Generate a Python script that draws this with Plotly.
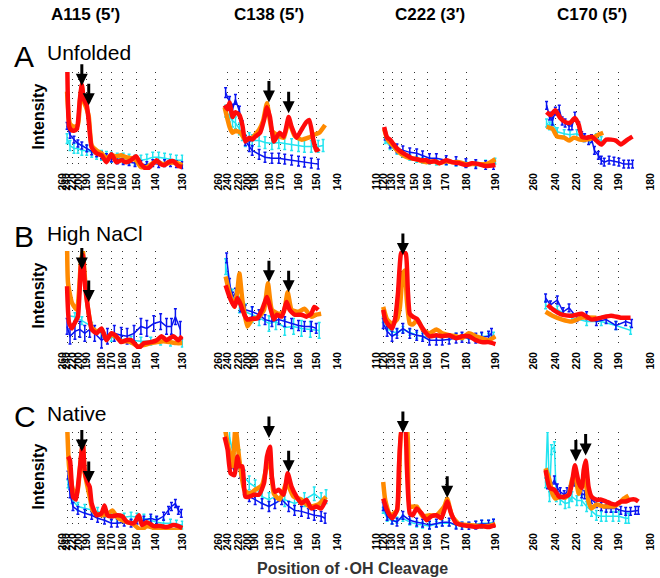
import plotly.graph_objects as go

# ---------------- tick labels (gel positions) per column ----------------
A115_TICK_POS = [0, 5, 11, 17, 25, 40, 50, 61, 76, 95, 122]
A115_TICK_LAB = ["260", "240", "220", "200", "190", "180", "170", "160", "150", "140", "130"]
C138_TICK_POS = [0, 9, 20, 29, 36, 52, 63, 81, 99, 121]
C138_TICK_LAB = ["260", "240", "220", "200", "190", "180", "170", "160", "150", "140"]
C222_TICK_POS = [0, 7, 16, 26, 39, 52, 70, 92, 121]
C222_TICK_LAB = ["110", "120", "130", "140", "150", "160", "170", "180", "190"]
C170_TICK_POS = [0, 22, 44, 66, 87, 120]
C170_TICK_LAB = ["260", "240", "220", "200", "190", "180"]

COLUMN_TITLES = ["A115 (5′)", "C138 (5′)", "C222 (3′)", "C170 (5′)"]
ROW_LETTERS = ["A", "B", "C"]
ROW_NAMES = ["Unfolded", "High NaCl", "Native"]

# ---------------- Row A: Unfolded ----------------
A115_UNF_RED = [(5,1.3),(7,0.45),(9,0.41),(12,0.40),(15,0.42),(18,0.72),(20,0.87),(22,0.72),(25,0.66),(27,0.5),(30,0.23),(35,0.17),(40,0.15),(45,0.08),(50,0.16),(55,0.08),(60,0.1),(65,0.08),(70,0.1),(75,0.14),(80,0.06),(86,0.01),(90,0.04),(96,0.1),(100,0.06),(104,0.05),(108,0.08),(113,0.09),(118,0.04),(122,0.03)]
A115_UNF_ORANGE = [(5,0.8),(8,0.47),(12,0.44),(16,0.46),(18,0.7),(20,0.85),(22,0.7),(25,0.62),(27,0.55),(30,0.25),(35,0.2),(40,0.17),(45,0.12),(50,0.15),(55,0.14),(60,0.15),(65,0.13),(70,0.12),(75,0.1),(80,0.03),(86,0.03),(92,0.07),(96,0.09),(102,0.06),(108,0.07),(114,0.08),(122,0.05)]
A115_UNF_BLUE = [(5,0.45),(8,0.36),(12,0.31),(16,0.27),(20,0.25),(25,0.22),(30,0.19),(35,0.17),(40,0.15),(45,0.13),(50,0.12),(56,0.1),(62,0.09),(68,0.08),(74,0.07),(80,0.06),(86,0.05),(92,0.07),(98,0.06),(104,0.07),(110,0.07),(116,0.06),(122,0.05)]
A115_UNF_CYAN = [(5,0.32),(8,0.25),(12,0.22),(16,0.22),(20,0.2),(25,0.2),(30,0.18),(35,0.16),(40,0.15),(45,0.14),(50,0.13),(56,0.12),(62,0.12),(68,0.11),(74,0.1),(80,0.1),(86,0.11),(92,0.13),(98,0.13),(104,0.12),(110,0.11),(116,0.1),(122,0.1)]
A115_UNF_BLUE_ERR, A115_UNF_CYAN_ERR = 0.035, 0.05

C138_UNF_RED = [(6,0.66),(9,0.62),(11,0.69),(14,0.54),(17,0.59),(21,0.56),(24,0.46),(27,0.29),(31,0.33),(34,0.31),(37,0.34),(42,0.38),(46,0.51),(49,0.64),(52,0.54),(56,0.29),(59,0.34),(62,0.38),(66,0.34),(71,0.54),(74,0.44),(79,0.33),(84,0.41),(89,0.49),(92,0.51),(96,0.31),(99,0.2),(102,0.22)]
C138_UNF_ORANGE = [(6,0.64),(11,0.44),(14,0.38),(17,0.4),(22,0.38),(27,0.31),(34,0.33),(41,0.41),(45,0.5),(49,0.68),(54,0.4),(59,0.36),(66,0.33),(71,0.5),(77,0.35),(84,0.31),(91,0.33),(97,0.36),(102,0.38),(108,0.46)]
C138_UNF_BLUE = [(7,0.79),(11,0.7),(14,0.62),(17,0.72),(21,0.6),(24,0.45),(27,0.3),(31,0.24),(34,0.2),(41,0.16),(47,0.13),(54,0.12),(61,0.12),(67,0.11),(74,0.1),(81,0.09),(87,0.08),(94,0.07),(101,0.06)]
C138_UNF_CYAN = [(7,0.6),(11,0.55),(14,0.5),(17,0.48),(21,0.42),(24,0.36),(27,0.3),(31,0.32),(34,0.3),(41,0.3),(47,0.28),(54,0.27),(61,0.28),(67,0.27),(74,0.26),(81,0.25),(87,0.24),(94,0.24),(101,0.24),(106,0.25)]
C138_UNF_BLUE_ERR, C138_UNF_CYAN_ERR = 0.05, 0.06

C222_UNF_RED = [(8,0.44),(11,0.33),(14,0.31),(17,0.27),(21,0.22),(26,0.18),(31,0.15),(36,0.12),(41,0.11),(46,0.1),(51,0.1),(54,0.08),(59,0.09),(64,0.07),(71,0.1),(77,0.08),(84,0.07),(91,0.05),(97,0.07),(104,0.06),(111,0.04),(121,0.05)]
C222_UNF_ORANGE = [(8,0.42),(11,0.32),(14,0.28),(17,0.25),(21,0.2),(26,0.16),(31,0.13),(36,0.12),(41,0.11),(46,0.09),(51,0.08),(59,0.09),(64,0.07),(71,0.09),(77,0.08),(84,0.08),(91,0.06),(97,0.06),(104,0.06),(111,0.06),(116,0.08),(121,0.11)]
C222_UNF_BLUE = [(9,0.35),(14,0.27),(21,0.22),(27,0.2),(34,0.18),(41,0.17),(47,0.15),(54,0.12),(61,0.12),(71,0.1),(81,0.09),(91,0.07),(101,0.06),(111,0.05),(119,0.05)]
C222_UNF_CYAN = [(9,0.3),(14,0.24),(21,0.19),(27,0.16),(34,0.13),(41,0.11),(47,0.1),(54,0.09),(61,0.08),(71,0.08),(81,0.07),(91,0.06),(101,0.06),(111,0.07),(121,0.09)]
C222_UNF_BLUE_ERR, C222_UNF_CYAN_ERR = 0.045, 0.03

C170_UNF_RED = [(13,0.59),(17,0.56),(22,0.61),(27,0.53),(32,0.49),(37,0.48),(42,0.53),(46,0.46),(49,0.34),(54,0.33),(59,0.34),(64,0.3),(69,0.26),(74,0.31),(79,0.31),(84,0.3),(89,0.26),(92,0.28),(96,0.31),(101,0.34)]
C170_UNF_ORANGE = [(13,0.44),(19,0.42),(24,0.34),(31,0.33),(36,0.3),(41,0.33),(47,0.31),(54,0.31),(61,0.33),(66,0.36),(71,0.38)]
C170_UNF_BLUE = [(13,0.66),(16,0.55),(19,0.5),(22,0.6),(26,0.62),(29,0.5),(32,0.48),(36,0.45),(39,0.45),(42,0.55),(46,0.45),(49,0.35),(52,0.33),(56,0.3),(59,0.32),(62,0.2),(66,0.15),(69,0.1),(72,0.08),(77,0.1),(82,0.09),(87,0.08),(92,0.06),(97,0.06),(101,0.06)]
C170_UNF_CYAN = [(13,0.48),(16,0.45),(19,0.49),(24,0.39),(31,0.37),(37,0.36),(44,0.37),(51,0.33),(57,0.31),(64,0.33),(69,0.3)]
C170_UNF_BLUE_ERR, C170_UNF_CYAN_ERR = 0.04, 0.04

# ---------------- Row B: High NaCl ----------------
A115_NACL_RED = [(5,0.64),(7,0.27),(10,0.21),(13,0.27),(16,0.33),(19,0.84),(21,0.96),(23,0.67),(26,0.43),(30,0.2),(35,0.16),(40,0.21),(45,0.09),(50,0.16),(55,0.13),(60,0.07),(65,0.09),(70,0.09),(75,0.04),(78,0.01),(83,0.06),(90,0.07),(96,0.09),(101,0.13),(106,0.09),(113,0.13),(118,0.09),(122,0.13)]
A115_NACL_ORANGE = [(5,1.1),(6,0.67),(10,0.47),(15,0.4),(19,0.88),(21,1.0),(23,0.74),(26,0.43),(30,0.22),(35,0.18),(40,0.2),(45,0.1),(50,0.15),(55,0.12),(60,0.08),(65,0.08),(70,0.07),(76,0.03),(83,0.04),(90,0.06),(96,0.07),(103,0.08),(110,0.07),(116,0.06),(122,0.06)]
A115_NACL_BLUE = [(5,0.23),(8,0.13),(13,0.18),(18,0.2),(23,0.16),(28,0.2),(33,0.16),(40,0.09),(46,0.13),(53,0.16),(60,0.14),(66,0.13),(73,0.16),(80,0.23),(86,0.21),(93,0.26),(100,0.28),(106,0.23),(111,0.23),(115,0.33),(120,0.2)]
A115_NACL_CYAN = [(6,0.34),(13,0.33),(20,0.29),(30,0.23),(40,0.16),(50,0.12),(60,0.1),(70,0.09),(80,0.08),(90,0.08),(100,0.08),(110,0.07),(122,0.06)]
A115_NACL_BLUE_ERR, A115_NACL_CYAN_ERR = 0.08, 0.04

C138_NACL_RED = [(7,0.65),(11,0.53),(16,0.43),(19,0.52),(22,0.46),(26,0.35),(29,0.3),(34,0.31),(39,0.31),(44,0.4),(49,0.53),(52,0.43),(56,0.3),(59,0.35),(64,0.33),(69,0.48),(72,0.4),(77,0.35),(84,0.35),(89,0.33),(94,0.36),(97,0.43),(101,0.4)]
C138_NACL_ORANGE = [(7,0.74),(11,0.57),(16,0.43),(19,0.6),(21,0.77),(24,0.5),(29,0.23),(34,0.3),(41,0.33),(46,0.4),(50,0.67),(54,0.4),(61,0.36),(66,0.38),(70,0.58),(74,0.4),(81,0.38),(87,0.41),(94,0.33),(99,0.35),(104,0.36)]
C138_NACL_BLUE = [(8,0.93),(11,0.67),(14,0.53),(17,0.57),(22,0.43),(27,0.4),(34,0.38),(41,0.35),(47,0.3),(54,0.28),(61,0.3),(67,0.28),(74,0.26),(81,0.24),(87,0.23),(94,0.23),(99,0.21)]
C138_NACL_CYAN = [(7,0.84),(14,0.53),(21,0.45),(27,0.38),(34,0.35),(41,0.32),(51,0.26),(58,0.28),(67,0.22),(76,0.23),(84,0.21),(93,0.2),(102,0.19)]
C138_NACL_BLUE_ERR, C138_NACL_CYAN_ERR = 0.05, 0.08

C222_NACL_RED = [(7,0.4),(9,0.3),(12,0.25),(16,0.21),(19,0.3),(22,0.57),(25,0.97),(27,1.0),(30,0.97),(32,0.6),(34,0.36),(37,0.33),(41,0.31),(44,0.26),(49,0.18),(54,0.13),(61,0.14),(67,0.13),(74,0.14),(81,0.11),(87,0.13),(94,0.13),(101,0.09),(107,0.07),(114,0.07),(121,0.05)]
C222_NACL_ORANGE = [(7,0.43),(11,0.3),(16,0.26),(21,0.3),(24,0.43),(27,0.77),(29,0.8),(31,0.5),(34,0.26),(37,0.25),(42,0.3),(47,0.2),(54,0.16),(61,0.2),(67,0.16),(74,0.14),(81,0.13),(87,0.11),(94,0.16),(101,0.13),(107,0.11),(114,0.09),(121,0.13)]
C222_NACL_BLUE = [(7,0.26),(11,0.18),(16,0.13),(21,0.16),(27,0.21),(34,0.16),(41,0.14),(47,0.13),(54,0.09),(61,0.09),(67,0.09),(74,0.1),(81,0.11),(87,0.12),(94,0.11),(101,0.11),(107,0.12),(114,0.13),(117,0.16)]
C222_NACL_CYAN = [(7,0.3),(11,0.22),(16,0.17),(21,0.17),(27,0.2),(34,0.17),(41,0.14),(47,0.13),(54,0.12),(61,0.12),(67,0.13),(74,0.12),(81,0.13),(87,0.12),(94,0.13),(101,0.12),(107,0.13),(114,0.13),(119,0.14)]
C222_NACL_BLUE_ERR, C222_NACL_CYAN_ERR = 0.05, 0.03

C170_NACL_RED = [(14,0.45),(20,0.4),(29,0.35),(39,0.34),(49,0.36),(59,0.3),(69,0.32),(79,0.34),(89,0.32),(99,0.32)]
C170_NACL_ORANGE = [(12,0.38),(19,0.34),(29,0.3),(39,0.28),(49,0.32),(64,0.32)]
C170_NACL_BLUE = [(12,0.52),(17,0.45),(24,0.5),(30,0.38),(36,0.42),(44,0.32),(54,0.34),(64,0.28),(74,0.3),(84,0.24),(94,0.28),(100,0.26)]
C170_NACL_CYAN = [(12,0.45),(24,0.4),(39,0.32),(54,0.28),(69,0.28),(84,0.24),(99,0.19)]
C170_NACL_BLUE_ERR, C170_NACL_CYAN_ERR = 0.04, 0.04

# ---------------- Row C: Native ----------------
A115_NAT_RED = [(6,0.75),(8,0.71),(11,0.34),(14,0.31),(16,0.44),(19,0.73),(21,0.88),(23,0.59),(26,0.48),(28,0.44),(30,0.27),(35,0.15),(40,0.17),(43,0.25),(46,0.15),(51,0.14),(56,0.15),(61,0.14),(66,0.08),(73,0.07),(78,0.15),(81,0.05),(86,0.08),(93,0.04),(100,0.04),(106,0.03),(113,0.05),(118,0.04),(122,0.02)]
A115_NAT_ORANGE = [(5,1.1),(7,0.65),(11,0.41),(15,0.37),(19,0.73),(21,0.88),(23,0.58),(28,0.34),(31,0.2),(36,0.16),(41,0.15),(46,0.16),(51,0.2),(56,0.13),(61,0.1),(66,0.08),(72,0.06),(80,0.0),(86,0.04),(93,0.02),(100,0.02),(110,0.0),(122,0.0)]
A115_NAT_BLUE = [(6,0.56),(8,0.37),(11,0.24),(16,0.2),(23,0.17),(30,0.15),(36,0.12),(43,0.1),(50,0.07),(56,0.07),(63,0.08),(70,0.07),(76,0.1),(83,0.1),(90,0.12),(96,0.1),(103,0.14),(108,0.2),(111,0.24),(115,0.27),(118,0.2),(121,0.17)]
A115_NAT_CYAN = [(6,0.47),(10,0.31),(16,0.24),(23,0.22),(30,0.2),(36,0.19),(43,0.17),(50,0.14),(56,0.12),(63,0.13),(70,0.14),(76,0.13),(83,0.12),(90,0.1),(96,0.08),(103,0.07),(110,0.07),(116,0.06),(122,0.05)]
A115_NAT_BLUE_ERR, A115_NAT_CYAN_ERR = 0.04, 0.04

C138_NAT_RED = [(6,0.95),(9,0.82),(12,0.58),(16,0.56),(19,0.75),(21,0.65),(24,0.65),(27,0.34),(31,0.34),(36,0.36),(41,0.36),(46,0.48),(49,0.75),(52,0.85),(54,0.54),(57,0.39),(61,0.41),(66,0.36),(70,0.58),(74,0.44),(79,0.34),(84,0.27),(89,0.31),(94,0.22),(99,0.24),(104,0.22),(109,0.31)]
C138_NAT_ORANGE = [(6,1.05),(11,0.78),(14,0.65),(17,1.05),(21,0.71),(26,0.41),(31,0.37),(37,0.41),(44,0.46),(49,0.65),(52,0.68),(56,0.37),(62,0.31),(69,0.48),(76,0.34),(84,0.31),(92,0.24),(101,0.26),(109,0.34)]
C138_NAT_BLUE = [(7,1.05),(9,0.82),(12,0.68),(16,0.6),(19,0.68),(22,0.58),(26,0.41),(31,0.34),(37,0.31),(44,0.27),(51,0.24),(57,0.27),(64,0.31),(71,0.24),(77,0.2),(84,0.19),(91,0.17),(97,0.15),(104,0.14),(108,0.12)]
C138_NAT_CYAN = [(11,0.95),(16,0.71),(21,0.75),(26,0.54),(31,0.48),(37,0.44),(44,0.34),(51,0.31),(57,0.34),(67,0.31),(77,0.27),(87,0.31),(97,0.37),(104,0.31),(109,0.34)]
C138_NAT_BLUE_ERR, C138_NAT_CYAN_ERR = 0.05, 0.07

C222_NAT_RED = [(7,0.32),(11,0.2),(16,0.12),(21,0.2),(23,0.65),(26,1.05),(29,1.05),(31,0.65),(34,0.17),(37,0.15),(41,0.22),(46,0.17),(51,0.1),(56,0.14),(61,0.15),(66,0.12),(69,0.2),(72,0.29),(76,0.17),(81,0.07),(87,0.05),(94,0.04),(101,0.03),(107,0.04),(114,0.03),(121,0.05)]
C222_NAT_ORANGE = [(7,0.49),(9,0.31),(14,0.15),(21,0.2),(26,1.05),(31,1.05),(34,0.24),(41,0.24),(47,0.14),(54,0.15),(61,0.15),(69,0.24),(72,0.32),(77,0.14),(84,0.06),(94,0.05),(104,0.04),(114,0.04),(121,0.06)]
C222_NAT_BLUE = [(7,0.24),(11,0.14),(16,0.1),(21,0.08),(27,0.15),(34,0.1),(41,0.08),(47,0.07),(54,0.05),(61,0.07),(67,0.08),(74,0.08),(81,0.05),(87,0.04),(94,0.04),(101,0.05),(107,0.06),(114,0.06),(119,0.07)]
C222_NAT_CYAN = [(7,0.2),(11,0.12),(16,0.09),(21,0.1),(27,0.12),(34,0.08),(41,0.06),(47,0.05),(54,0.04),(61,0.06),(67,0.07),(74,0.07),(81,0.05),(87,0.05),(94,0.05),(101,0.06),(107,0.07),(114,0.07),(119,0.08)]
C222_NAT_BLUE_ERR, C222_NAT_CYAN_ERR = 0.04, 0.03

C170_NAT_RED = [(12,0.61),(16,0.43),(21,0.41),(26,0.34),(31,0.34),(36,0.36),(39,0.48),(42,0.66),(46,0.48),(49,0.43),(51,0.61),(53,0.71),(56,0.44),(59,0.34),(64,0.31),(69,0.31),(74,0.29),(79,0.27),(84,0.26),(89,0.29),(94,0.29),(99,0.31),(104,0.31),(107,0.29)]
C170_NAT_ORANGE = [(12,0.63),(16,0.51),(19,0.37),(22,0.32),(27,0.34),(32,0.33),(36,0.37),(39,0.51),(42,0.56),(46,0.37),(50,0.51),(52,0.53),(56,0.29),(59,0.22),(64,0.26),(71,0.24),(77,0.24),(82,0.24),(87,0.27),(92,0.32),(97,0.35)]
C170_NAT_BLUE = [(14,0.46),(17,0.44),(21,0.51),(24,0.43),(27,0.39),(31,0.36),(34,0.39),(37,0.41),(42,0.49),(46,0.41),(49,0.37),(52,0.36),(56,0.36),(59,0.31),(64,0.27),(69,0.24),(74,0.22),(79,0.22),(84,0.22),(89,0.2),(94,0.19),(99,0.19),(104,0.2),(107,0.2)]
C170_NAT_CYAN = [(12,0.48),(14,1.05),(16,0.34),(18,0.82),(21,0.85),(23,0.34),(27,0.31),(32,0.27),(36,0.28),(39,0.34),(44,0.3),(49,0.3),(54,0.24),(59,0.19),(64,0.15),(69,0.14),(74,0.14),(81,0.14),(87,0.14),(94,0.12),(97,0.12)]
C170_NAT_BLUE_ERR, C170_NAT_CYAN_ERR = 0.04, 0.05

# ---------------- arrows marking cleavage peaks (x, y) ----------------
A115_UNF_ARROWS = [(20, 0.86), (27, 0.66)]
C138_UNF_ARROWS = [(51, 0.69), (71, 0.58)]
A115_NACL_ARROWS = [(20, 0.81), (27, 0.48)]
C138_NACL_ARROWS = [(51, 0.68), (71, 0.58)]
C222_NACL_ARROWS = [(27, 0.96)]
A115_NAT_ARROWS = [(20, 0.80), (27, 0.48)]
C138_NAT_ARROWS = [(51, 0.94), (71, 0.59)]
C222_NAT_ARROWS = [(27, 0.99), (72, 0.33)]
C170_NAT_ARROWS = [(43, 0.70), (53, 0.76)]

# ---------------- build figure ----------------
W, H = 660, 578
COL_PX = [(56, 180), (215, 338), (375, 498), (535, 656)]
COL_RANGE = [(-1, 123), (-1, 122), (-1, 122), (-1, 121)]
ROW_PX = [(72, 170), (251, 349), (432, 530)]
TICKS = [(A115_TICK_POS, A115_TICK_LAB), (C138_TICK_POS, C138_TICK_LAB),
         (C222_TICK_POS, C222_TICK_LAB), (C170_TICK_POS, C170_TICK_LAB)]

PANELS = [
    [(A115_UNF_CYAN, A115_UNF_CYAN_ERR, A115_UNF_BLUE, A115_UNF_BLUE_ERR, A115_UNF_ORANGE, A115_UNF_RED, A115_UNF_ARROWS),
     (C138_UNF_CYAN, C138_UNF_CYAN_ERR, C138_UNF_BLUE, C138_UNF_BLUE_ERR, C138_UNF_ORANGE, C138_UNF_RED, C138_UNF_ARROWS),
     (C222_UNF_CYAN, C222_UNF_CYAN_ERR, C222_UNF_BLUE, C222_UNF_BLUE_ERR, C222_UNF_ORANGE, C222_UNF_RED, []),
     (C170_UNF_CYAN, C170_UNF_CYAN_ERR, C170_UNF_BLUE, C170_UNF_BLUE_ERR, C170_UNF_ORANGE, C170_UNF_RED, [])],
    [(A115_NACL_CYAN, A115_NACL_CYAN_ERR, A115_NACL_BLUE, A115_NACL_BLUE_ERR, A115_NACL_ORANGE, A115_NACL_RED, A115_NACL_ARROWS),
     (C138_NACL_CYAN, C138_NACL_CYAN_ERR, C138_NACL_BLUE, C138_NACL_BLUE_ERR, C138_NACL_ORANGE, C138_NACL_RED, C138_NACL_ARROWS),
     (C222_NACL_CYAN, C222_NACL_CYAN_ERR, C222_NACL_BLUE, C222_NACL_BLUE_ERR, C222_NACL_ORANGE, C222_NACL_RED, C222_NACL_ARROWS),
     (C170_NACL_CYAN, C170_NACL_CYAN_ERR, C170_NACL_BLUE, C170_NACL_BLUE_ERR, C170_NACL_ORANGE, C170_NACL_RED, [])],
    [(A115_NAT_CYAN, A115_NAT_CYAN_ERR, A115_NAT_BLUE, A115_NAT_BLUE_ERR, A115_NAT_ORANGE, A115_NAT_RED, A115_NAT_ARROWS),
     (C138_NAT_CYAN, C138_NAT_CYAN_ERR, C138_NAT_BLUE, C138_NAT_BLUE_ERR, C138_NAT_ORANGE, C138_NAT_RED, C138_NAT_ARROWS),
     (C222_NAT_CYAN, C222_NAT_CYAN_ERR, C222_NAT_BLUE, C222_NAT_BLUE_ERR, C222_NAT_ORANGE, C222_NAT_RED, C222_NAT_ARROWS),
     (C170_NAT_CYAN, C170_NAT_CYAN_ERR, C170_NAT_BLUE, C170_NAT_BLUE_ERR, C170_NAT_ORANGE, C170_NAT_RED, C170_NAT_ARROWS)],
]

FONT = "Liberation Sans, Arial, Helvetica, sans-serif"
CYAN, BLUE, ORANGE, RED = "#22e4f0", "#0a14f0", "#ff8a00", "#ff0a0a"

fig = go.Figure()
layout = dict(width=W, height=H, margin=dict(l=0, r=0, t=0, b=0),
              paper_bgcolor="white", plot_bgcolor="white", showlegend=False,
              font=dict(family=FONT, color="black"))
annotations = []

def xy(pts):
    return [p[0] for p in pts], [p[1] for p in pts]

for r in range(3):
    for c in range(4):
        k = r * 4 + c + 1
        xname = "x" if k == 1 else f"x{k}"
        yname = "y" if k == 1 else f"y{k}"
        xkey = "xaxis" if k == 1 else f"xaxis{k}"
        ykey = "yaxis" if k == 1 else f"yaxis{k}"
        x0, x1 = COL_PX[c]
        y0, y1 = ROW_PX[r]
        tv, tt = TICKS[c]
        layout[xkey] = dict(domain=[x0 / W, x1 / W], anchor=yname, range=list(COL_RANGE[c]),
                            tickvals=tv, ticktext=tt, tickangle=-90, ticks="",
                            ticklabeloverflow="allow",
                            tickfont=dict(size=10.5, family=FONT, weight="bold", color="black"),
                            showgrid=True, gridcolor="#333333", gridwidth=1, griddash="1px,5.5px",
                            zeroline=False, showline=False, fixedrange=True)
        layout[ykey] = dict(domain=[1 - y1 / H, 1 - y0 / H], anchor=xname, range=[0, 1],
                            showgrid=False, zeroline=False, showline=False,
                            showticklabels=False, ticks="", fixedrange=True)
        cyan, cerr, blue, berr, orange, red, arrows = PANELS[r][c]
        cx, cy = xy(cyan)
        fig.add_trace(go.Scatter(x=cx, y=cy, mode="lines", xaxis=xname, yaxis=yname,
                                 line=dict(color=CYAN, width=1.5),
                                 error_y=dict(type="constant", value=cerr, color=CYAN, thickness=1.5, width=1.5)))
        bx, by = xy(blue)
        fig.add_trace(go.Scatter(x=bx, y=by, mode="lines", xaxis=xname, yaxis=yname,
                                 line=dict(color=BLUE, width=1.5),
                                 error_y=dict(type="constant", value=berr, color=BLUE, thickness=1.5, width=1.5)))
        ox, oy = xy(orange)
        fig.add_trace(go.Scatter(x=ox, y=oy, mode="lines", xaxis=xname, yaxis=yname,
                                 line=dict(color=ORANGE, width=4.5, shape="spline", smoothing=0.5)))
        rx, ry = xy(red)
        fig.add_trace(go.Scatter(x=rx, y=ry, mode="lines", xaxis=xname, yaxis=yname,
                                 line=dict(color=RED, width=4.5, shape="spline", smoothing=0.5)))
        for ax_, ay_ in arrows:
            annotations.append(dict(x=ax_, y=ay_, xref=xname, yref=yname, text="",
                                    showarrow=True, ax=0, ay=-23, arrowhead=2,
                                    arrowsize=0.8, arrowwidth=3, arrowcolor="black"))

# column titles
COL_TITLE_X = [81, 267, 431, 595]
for c in range(4):
    annotations.append(dict(x=COL_TITLE_X[c] / W, y=1 - 15 / H, xref="paper", yref="paper",
                            text=COLUMN_TITLES[c], showarrow=False, xanchor="center", yanchor="middle",
                            font=dict(size=17, family=FONT, weight="bold", color="black")))

# row letters and names
ROW_LETTER_Y = [56, 236, 416]
ROW_NAME_Y = [52, 233, 413]
for r in range(3):
    annotations.append(dict(x=6 / W, y=1 - ROW_LETTER_Y[r] / H, xref="paper", yref="paper",
                            text=ROW_LETTERS[r], showarrow=False, xanchor="left", yanchor="middle",
                            font=dict(size=30, family=FONT, color="black")))
    annotations.append(dict(x=40 / W, y=1 - ROW_NAME_Y[r] / H, xref="paper", yref="paper",
                            text=ROW_NAMES[r], showarrow=False, xanchor="left", yanchor="middle",
                            font=dict(size=21, family=FONT, color="black")))
    yc = (ROW_PX[r][0] + ROW_PX[r][1]) / 2 - 4
    annotations.append(dict(x=32 / W, y=1 - yc / H, xref="paper", yref="paper",
                            text="Intensity", showarrow=False, textangle=-90,
                            xanchor="center", yanchor="middle",
                            font=dict(size=16, family=FONT, weight="bold", color="black")))

annotations.append(dict(x=352 / W, y=1 - 568 / H, xref="paper", yref="paper",
                        text="Position of ·OH Cleavage", showarrow=False,
                        xanchor="center", yanchor="middle",
                        font=dict(size=16, family=FONT, weight="bold", color="#333333")))

layout["annotations"] = annotations
fig.update_layout(**layout)
fig.write_html("out.html", config={"displayModeBar": False, "staticPlot": True},
               post_script="document.body.style.margin='0';document.body.style.overflow='hidden';")
